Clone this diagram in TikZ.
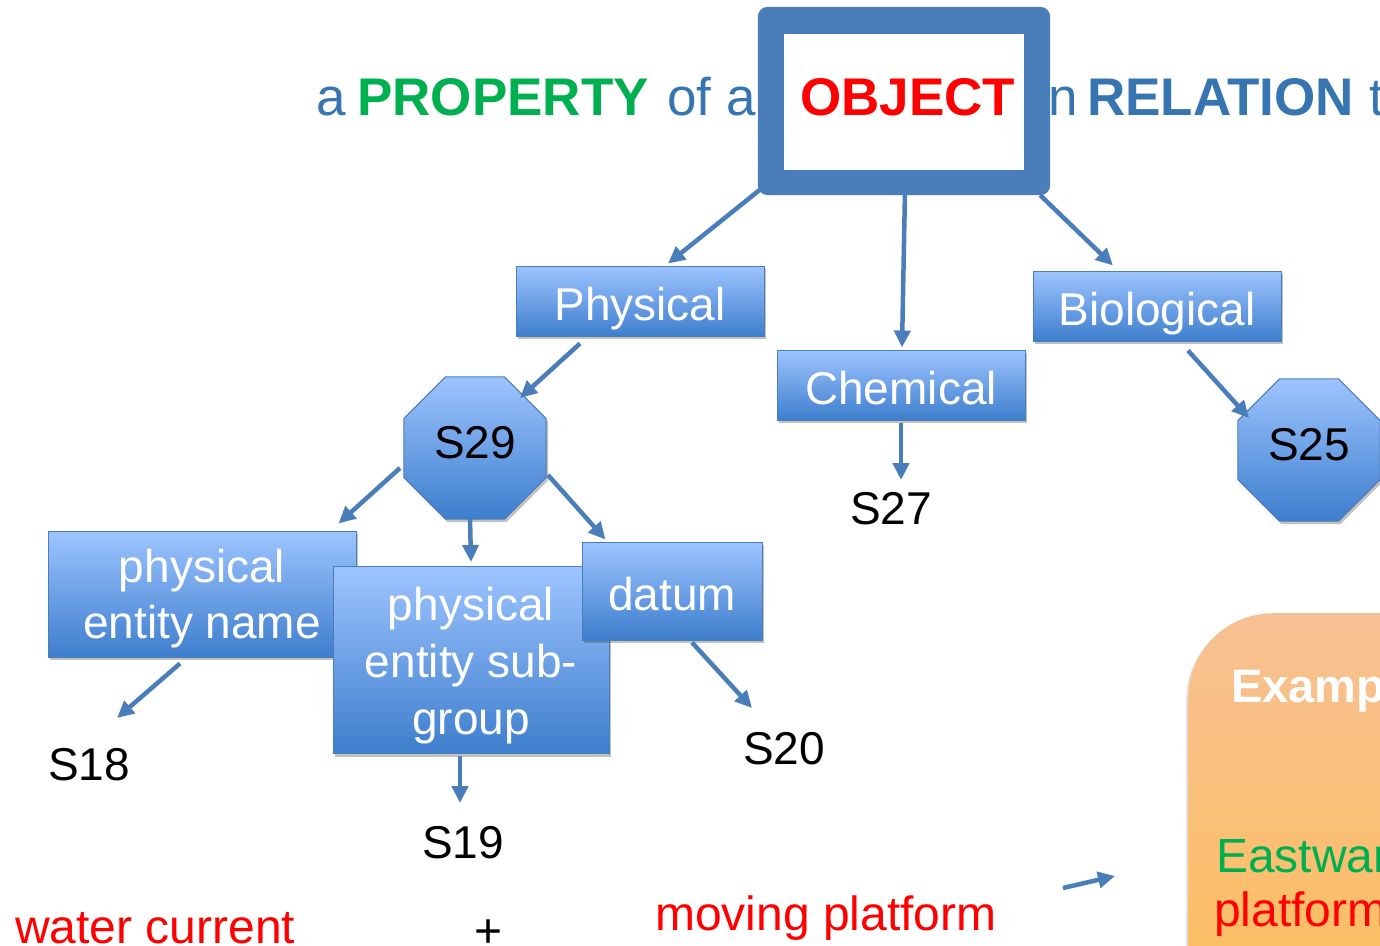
\documentclass[tikz,border=0pt]{standalone}
\usepackage{fontspec}
\setmainfont{Liberation Sans}
\usetikzlibrary{shapes.geometric,arrows.meta,shadows}

\definecolor{edgeblue}{RGB}{74,126,187}
\definecolor{boxtop}{RGB}{157,196,255}
\definecolor{boxbot}{RGB}{62,126,205}
\definecolor{titleblue}{RGB}{54,117,177}
\definecolor{propgreen}{RGB}{0,176,80}
\definecolor{objred}{RGB}{255,0,0}
\definecolor{extop}{RGB}{247,192,148}
\definecolor{exbot}{RGB}{253,191,86}

\begin{document}
\begin{tikzpicture}[x=1pt,y=-1pt,
  title/.style={anchor=base west,inner sep=0pt,font=\fontsize{53}{60}\selectfont},
  catbox/.style={rectangle,draw=edgeblue,line width=1pt,top color=boxtop,bottom color=boxbot,
    text=white,align=center,inner sep=0pt,font=\fontsize{46}{56}\selectfont,
    drop shadow={shadow xshift=2pt,shadow yshift=-3pt,opacity=0.35,fill=black!70}},
  oneline/.style={text height=38pt,text depth=0pt},
  octbox/.style={regular polygon,regular polygon sides=8,minimum size=154pt,inner sep=0pt,
    draw=edgeblue,line width=1pt,top color=boxtop,bottom color=boxbot,text=black,
    font=\fontsize{46}{56}\selectfont,text height=20pt,text depth=0pt,
    drop shadow={shadow xshift=2pt,shadow yshift=-3pt,opacity=0.35,fill=black!70}},
  slabel/.style={inner sep=0pt,text=black,font=\fontsize{46}{56}\selectfont},
  redtext/.style={anchor=base west,inner sep=0pt,text=objred,font=\fontsize{48}{56}\selectfont},
  arr/.style={draw=edgeblue,line width=4.5pt,-{Triangle[length=17pt,width=16pt]}}]

\useasboundingbox (0,0) rectangle (1380,945);
\clip (0,0) rectangle (1380,945);

% heading line, partly hidden by the object frame
\node[title,text=titleblue] (ta) at (316,115) {a};
\node[title,text=propgreen,font=\fontsize{53}{60}\selectfont\bfseries] (tprop) at (357,115) {PROPERTY};
\node[title,text=titleblue] (tof) at (667,115) {of a};
\node[title,text=objred,font=\fontsize{53}{60}\selectfont\bfseries] (tobj) at (800,115) {OBJECT};
\node[title,text=titleblue] (tin) at (1037,115) {in};
\node[title,text=titleblue,font=\fontsize{53}{60}\selectfont\bfseries] (trel) at (1087,115) {RELATION};
\node[title,text=titleblue] (tto) at (1369,115) {to};

% thick frame around OBJECT
\node[minimum width=292pt,minimum height=188pt,inner sep=0pt] (obj) at (904,101) {};
\fill[edgeblue,even odd rule,rounded corners=10pt] (obj.south west) rectangle (obj.north east)
  [sharp corners] ([shift={(26,-25)}]obj.south west) rectangle ([shift={(-26,27)}]obj.north east);

% first level
\node[catbox,oneline,minimum width=248pt,minimum height=70pt] (phys) at (640,301) {Physical};
\node[catbox,oneline,minimum width=248pt,minimum height=70pt] (chem) at (901,385) {Chemical};
\node[catbox,oneline,minimum width=248pt,minimum height=70pt] (bio) at (1157,306) {Biological};

% octagons
\node[octbox] (s29) at (475,448) {S29};
\node[octbox] (s25) at (1309,450) {S25};

% second level under S29
\node[catbox,minimum width=308pt,minimum height=126pt] (pen) at (202,594)
  {\rule{0pt}{43pt}physical\\entity name};
\node[catbox,font=\fontsize{46}{57}\selectfont,minimum width=276pt,minimum height=187pt] (psg) at (471,660)
  {\rule{0pt}{45pt}physical\\entity sub-\\group};
\node[catbox,oneline,minimum width=180pt,minimum height=98pt] (datum) at (672,591) {datum};

% plain labels
\node[slabel] (s27) at (891,509) {S27};
\node[slabel] (s18) at (89,765) {S18};
\node[slabel] (s19) at (463,843) {S19};
\node[slabel] (s20) at (784,749) {S20};

% example panel
\node[rectangle,anchor=north west,minimum width=320pt,minimum height=440pt,inner sep=0pt,
  rounded corners=85pt,top color=extop,bottom color=exbot,
  drop shadow={shadow xshift=-2pt,shadow yshift=-2pt,opacity=0.2,fill=black!60}] (ex) at (1188,613) {};
\node[anchor=base west,inner sep=0pt,text=white,font=\fontsize{47}{56}\selectfont\bfseries] (exhead) at (1231,702) {Example};
\node[anchor=base west,inner sep=0pt,text=propgreen,font=\fontsize{48}{56}\selectfont] (exl1) at (1216,872) {Eastward};
\node[anchor=base west,inner sep=0pt,text=objred,font=\fontsize{48}{56}\selectfont] (exl2) at (1214,926) {platform};

% bottom row
\node[redtext] (water) at (15,943) {water current};
\node[anchor=base,inner sep=0pt,text=black,font=\fontsize{48}{56}\selectfont] (plus) at (489,947) {+};
\node[redtext] (moving) at (655,930) {moving platform};

% connectors
\draw[arr] ([shift={(4,-7)}]obj.south west) -- ([shift={(28,-2)}]phys.north);
\draw[arr] ([shift={(1,-5)}]obj.south) -- ([shift={(1,-2)}]chem.north);
\draw[arr] ([shift={(-10,0)}]obj.south east) -- ([shift={(-44,-5)}]bio.north);
\draw[arr] ([shift={(-60,7)}]phys.south) -- ([shift={(45,-50)}]s29.center);
\draw[arr] ([shift={(0,2)}]chem.south) -- ([shift={(10,-29)}]s27.center);
\draw[arr] ([shift={(31,9)}]bio.south) -- ([shift={(-60,-32)}]s25.center);
\draw[arr] ([shift={(-75,20)}]s29.center) -- ([shift={(-18,-7)}]pen.north east);
\draw[arr] ([shift={(-5,70)}]s29.center) -- ([shift={(0,-4)}]psg.north);
\draw[arr] ([shift={(73,27)}]s29.center) -- ([shift={(24,-2)}]datum.north west);
\draw[arr] ([shift={(-22,6)}]pen.south) -- ([shift={(28,-47)}]s18.center);
\draw[arr] ([shift={(-11,2)}]psg.south) -- ([shift={(-3,-40)}]s19.center);
\draw[arr] ([shift={(20,2)}]datum.south) -- ([shift={(-32,-41)}]s20.center);

% free-standing arrow towards the example panel
\coordinate (fa) at (1063,888);
\coordinate (fb) at (1115,876);
\draw[arr] (fa) -- (fb);

\end{tikzpicture}
\end{document}
